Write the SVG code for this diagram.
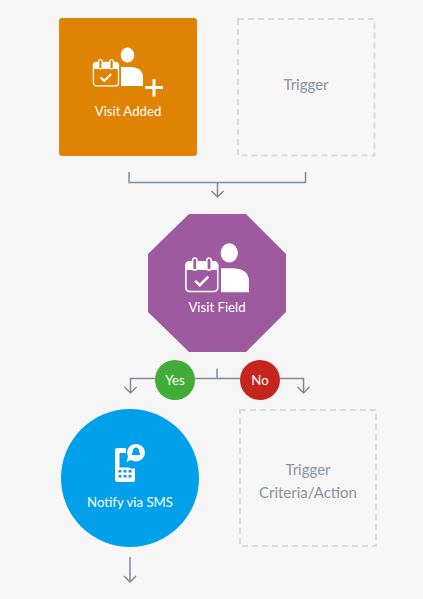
<svg xmlns="http://www.w3.org/2000/svg" width="423" height="599" viewBox="0 0 423 599">
<style>
text{font-family:Lato,"Noto Sans","Liberation Sans",sans-serif;font-size:13.2px;text-anchor:middle}
.w{fill:#fff}
.g{fill:#8a94a2;font-size:15px}
.d{fill:none;stroke:#dcdcdc;stroke-width:2;stroke-dasharray:6 4}
.c{fill:none;stroke:#7f8c99;stroke-width:1.5}
.ic{fill:none;stroke:#fff;stroke-width:1.3}
.f{fill:#fff}
</style>
<defs>
<g id="cal">
<rect x="0.7" y="3" width="25.1" height="23.4" rx="3" class="ic"/>
<path d="M1 5.500a3 3 0 0 1 3-2.500h18.500a3 3 0 0 1 3 2.500v4H1z" class="f"/>
<rect x="6" y="0" width="3.400" height="9.500" rx="1.700" fill="currentColor" stroke="#fff" stroke-width="1.200"/>
<rect x="17.200" y="0" width="3.400" height="9.500" rx="1.700" fill="currentColor" stroke="#fff" stroke-width="1.200"/>
<path d="M8 18l3.600 3.400 6.800-6.800" fill="none" stroke="#fff" stroke-width="2"/>
</g>
<g id="person">
<ellipse cx="6.500" cy="7" rx="6.800" ry="7.500" class="f"/>
<path d="M0 19h9c8 0 13 3.500 13 10v9H0z" class="f"/>
</g>
</defs>
<rect width="423" height="599" fill="#f6f6f6"/>
<g id="connectors">
<path class="c" d="M129 172v10.500H305.500V172M217.500 182.500V197M211.500 191l6 6 6-6"/>
<path class="c" d="M130.500 393V378.500H155M195 378.500H240M280 378.500H303.500V393M124.500 387l6 6 6-6M297.500 387l6 6 6-6M217 368.500V378.500"/>
<path class="c" d="M130 557V582M124 576l6 6 6-6"/>
</g>
<g id="node-visit-added">
<rect x="59" y="18" width="138" height="138" rx="3" fill="#e08305"/>
<use href="#cal" x="92.700" y="59.500" color="#e08305"/>
<use href="#person" x="121" y="48"/>
<path d="M145 87.500h18M154 79v17.500" stroke="#fff" stroke-width="3" fill="none"/>
<text class="w" x="128" y="116">Visit Added</text>
</g>
<g id="node-trigger">
<rect class="d" x="238" y="19" width="136.500" height="136.500"/>
<text class="g" x="306" y="90">Trigger</text>
</g>
<g id="node-visit-field">
<polygon points="189,214 246,214 286,254 286,312 246,352 189,352 148,312 148,254" fill="#9e5a9e"/>
<use href="#cal" transform="translate(185 258) scale(1.270)" color="#9e5a9e"/>
<use href="#person" transform="translate(221 244) scale(1.270)"/>
<text class="w" x="217" y="312">Visit Field</text>
</g>
<g id="node-yes">
<circle cx="175" cy="380" r="20" fill="#41ad38"/>
<text class="w" x="175" y="385">Yes</text>
</g>
<g id="node-no">
<circle cx="260" cy="380" r="20" fill="#c4261d"/>
<text class="w" x="260" y="385">No</text>
</g>
<g id="node-notify">
<circle cx="130" cy="478" r="69" fill="#00a0ea"/>
<path d="M117 448h9v5h-6.500v14.500h9.500l1.500 1h4.500v11.500a2 2 0 0 1-2 2h-16a2 2 0 0 1-2-2V450a2 2 0 0 1 2-2z" class="f"/>
<path d="M136 444a9 8.700 0 1 1-5 16l-4.500 2 1.500-5.500a9 8.700 0 0 1 8-12.500z" class="f"/>
<path d="M136 447.500c2.300 0 3 2 3 3.500l1.500 4h-9l1.500-4c0-1.500.7-3.500 3-3.500z" fill="#00a0ea"/>
<g fill="#00a0ea"><rect x="118.500" y="470" width="3" height="2.500"/><rect x="123.500" y="470" width="3" height="2.500"/><rect x="128.500" y="470" width="3" height="2.500"/><rect x="118.500" y="475" width="3" height="2.500"/><rect x="123.500" y="475" width="3" height="2.500"/><rect x="128.500" y="475" width="3" height="2.500"/></g>
<text class="w" x="130" y="507">Notify via SMS</text>
</g>
<g id="node-criteria">
<rect class="d" x="240" y="410" width="136" height="136"/>
<text class="g" x="308" y="475">Trigger</text>
<text class="g" x="308" y="498">Criteria/Action</text>
</g>
</svg>
